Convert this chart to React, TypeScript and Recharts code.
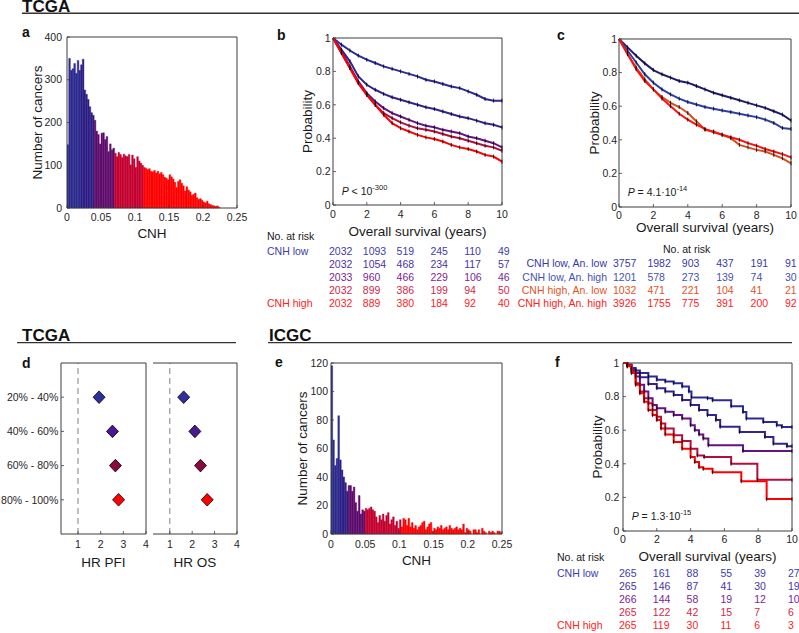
import React from "react"
import {
  Bar,
  BarChart,
  Cell,
  ErrorBar,
  Line,
  LineChart,
  ReferenceLine,
  Scatter,
  ScatterChart,
  XAxis,
  YAxis,
} from "recharts"

const FONT = '"Liberation Sans", Arial, Helvetica, sans-serif'
const INK = "#1a1a1a"
const TICK_INK = "#262626"
const FRAME = "#3c3c3c"
const TICK_FS = 10.5
const TITLE_FS = 13.5
const TABLE_FS = 10.5

// a: TCGA, number of cancers per CNH bin (bin width 0.0025)
const A_COUNTS = [
  148, 350, 322, 326, 338, 315, 345, 322, 335, 348,
  276, 266, 254, 237, 223, 217, 205, 180, 172, 150,
  175, 176, 160, 167, 132, 150, 136, 140, 128, 120,
  130, 125, 118, 126, 122, 120, 125, 101, 124, 115,
  95, 120, 110, 105, 100, 95, 93, 90, 92, 86,
  85, 88, 82, 86, 80, 83, 78, 72, 70, 66,
  78, 73, 68, 60, 48, 62, 66, 58, 52, 40,
  50, 42, 38, 30, 32, 35, 24, 20, 22, 18,
  14, 12, 16, 10, 8, 6, 5, 4, 5, 2,
]
const A_SPLITS = [8, 16, 28, 45]

// e: ICGC, same binning
const E_COUNTS = [
  118, 66, 48, 53, 83, 52, 45, 40, 36, 30,
  34, 34, 30, 33, 22, 16, 27, 14, 17, 16,
  18, 17, 18, 19, 17, 16, 12, 8, 13, 10,
  14, 9, 13, 15, 7, 10, 12, 6, 9, 4,
  10, 5, 11, 10, 6, 11, 5, 8, 4, 6,
  3, 5, 6, 8, 9, 3, 5, 7, 8, 2,
  4, 3, 5, 4, 6, 3, 4, 5, 3, 6,
  4, 3, 4, 5, 3, 4, 3, 7, 1, 4,
  3, 2, 0, 3, 3, 1, 3, 0, 4, 2,
  1, 0, 2, 1, 2, 1, 0, 2, 2, 1,
]
const E_SPLITS = [5, 10, 20, 41]

const HIST_COLORS = ["#2b2b8e", "#2e1e86", "#5e0c6c", "#c40030", "#ff0000"]
const CNH_TICKS = [0, 0.05, 0.1, 0.15, 0.2, 0.25]
const HIST_BINS = 100
const BIN_W = 0.0025

// b: TCGA overall survival by CNH quintile
const YEARS = [0, 0.5, 1, 1.5, 2, 2.5, 3, 3.5, 4, 4.5, 5, 5.5, 6, 6.5, 7, 7.5, 8, 8.5, 9, 9.5, 10]
const B_LOW = [1, 0.96, 0.925, 0.895, 0.87, 0.85, 0.83, 0.815, 0.8, 0.785, 0.77, 0.75, 0.74, 0.725, 0.71, 0.7, 0.68, 0.66, 0.635, 0.625, 0.625]
const B_Q2 = [1, 0.93, 0.86, 0.77, 0.72, 0.69, 0.665, 0.645, 0.63, 0.615, 0.6, 0.585, 0.575, 0.56, 0.545, 0.53, 0.52, 0.505, 0.49, 0.48, 0.465]
const B_Q3 = [1, 0.92, 0.83, 0.74, 0.67, 0.62, 0.58, 0.55, 0.53, 0.51, 0.49, 0.475, 0.465, 0.45, 0.44, 0.43, 0.41, 0.4, 0.385, 0.37, 0.345]
const B_Q4 = [1, 0.91, 0.82, 0.73, 0.66, 0.6, 0.55, 0.52, 0.495, 0.475, 0.46, 0.45, 0.44, 0.425, 0.41, 0.4, 0.385, 0.37, 0.355, 0.345, 0.325]
const B_HIGH = [1, 0.91, 0.82, 0.73, 0.66, 0.6, 0.54, 0.49, 0.46, 0.44, 0.42, 0.405, 0.395, 0.38, 0.36, 0.345, 0.335, 0.32, 0.3, 0.29, 0.26]

// c: TCGA overall survival by CNH x aneuploidy
const C_LOW_LOW = [1, 0.95, 0.9, 0.855, 0.815, 0.79, 0.77, 0.75, 0.74, 0.72, 0.7, 0.68, 0.665, 0.65, 0.635, 0.62, 0.605, 0.59, 0.57, 0.55, 0.515]
const C_LOW_HIGH = [1, 0.93, 0.86, 0.79, 0.74, 0.7, 0.67, 0.645, 0.625, 0.61, 0.595, 0.585, 0.575, 0.565, 0.555, 0.545, 0.535, 0.52, 0.5, 0.47, 0.465]
const C_HIGH_LOW = [1, 0.91, 0.83, 0.76, 0.7, 0.655, 0.62, 0.595, 0.56, 0.51, 0.46, 0.45, 0.43, 0.41, 0.37, 0.355, 0.34, 0.33, 0.31, 0.29, 0.26]
const C_HIGH_HIGH = [1, 0.91, 0.82, 0.75, 0.7, 0.645, 0.6, 0.555, 0.52, 0.49, 0.465, 0.445, 0.43, 0.415, 0.4, 0.38, 0.365, 0.345, 0.33, 0.315, 0.295]

// f: ICGC overall survival, [years, probability] at visible steps
const F_LOW = [[0, 1], [0.25, 0.99], [0.5, 0.97], [0.75, 0.955], [1, 0.94], [1.5, 0.92], [2, 0.9], [2.5, 0.89], [3, 0.88], [3.5, 0.86], [3.9, 0.83], [4.05, 0.795], [5, 0.79], [5.3, 0.778], [6.4, 0.742], [7.1, 0.708], [7.3, 0.669], [8.3, 0.649], [9.1, 0.629], [9.4, 0.619], [10, 0.619]]
const F_Q2 = [[0, 1], [0.25, 0.985], [0.5, 0.96], [0.75, 0.94], [1, 0.915], [1.5, 0.875], [2, 0.85], [2.5, 0.83], [3, 0.81], [3.5, 0.78], [4, 0.75], [4.5, 0.72], [5, 0.69], [5.5, 0.66], [5.75, 0.62], [6.9, 0.59], [8.4, 0.56], [8.9, 0.52], [9.7, 0.505], [10, 0.505]]
const F_Q3 = [[0, 1], [0.25, 0.99], [0.5, 0.96], [0.75, 0.92], [1, 0.87], [1.25, 0.83], [1.5, 0.79], [1.75, 0.75], [2, 0.73], [2.5, 0.71], [3, 0.69], [3.5, 0.67], [4, 0.63], [4.25, 0.6], [4.5, 0.575], [4.75, 0.55], [5.05, 0.51], [7.1, 0.476], [10, 0.476]]
const F_Q4 = [[0, 1], [0.25, 0.985], [0.5, 0.95], [0.75, 0.88], [1, 0.83], [1.25, 0.79], [1.5, 0.76], [1.75, 0.72], [2, 0.68], [2.25, 0.64], [2.5, 0.61], [3, 0.57], [3.5, 0.535], [4, 0.49], [4.4, 0.45], [4.8, 0.44], [6.4, 0.4], [7.95, 0.305], [10, 0.305]]
const F_HIGH = [[0, 1], [0.25, 0.98], [0.5, 0.94], [0.75, 0.87], [1, 0.82], [1.25, 0.77], [1.5, 0.72], [1.75, 0.69], [2, 0.66], [2.25, 0.61], [2.5, 0.575], [3, 0.53], [3.5, 0.49], [4, 0.44], [4.25, 0.41], [4.5, 0.38], [4.75, 0.37], [5.3, 0.35], [7, 0.296], [8.5, 0.19], [10, 0.19]]

const QUINT_COLORS = ["#2a2a98", "#33238e", "#641282", "#b30f3e", "#ff0000"]
const QUINT_TEXT = ["#3c3cac", "#4a34a6", "#7a2694", "#d0284a", "#ff2020"]
const C_COLORS = ["#1c1c6c", "#2c40a4", "#d2501c", "#ff1010"]
const C_TEXT = ["#3838a8", "#3f52b4", "#e2541e", "#ff2020"]

const YEAR_TICKS = [0, 2, 4, 6, 8, 10]
const PROB_TICKS = [0, 0.2, 0.4, 0.6, 0.8, 1]

// numbers at risk
const B_RISK = [
  [2032, 1093, 519, 245, 110, 49],
  [2032, 1054, 468, 234, 117, 57],
  [2033, 960, 466, 229, 106, 46],
  [2032, 899, 386, 199, 94, 50],
  [2032, 889, 380, 184, 92, 40],
]
const C_RISK = [
  [3757, 1982, 903, 437, 191, 91],
  [1201, 578, 273, 139, 74, 30],
  [1032, 471, 221, 104, 41, 21],
  [3926, 1755, 775, 391, 200, 92],
]
const F_RISK = [
  [265, 161, 88, 55, 39, 27],
  [265, 146, 87, 41, 30, 19],
  [266, 144, 58, 19, 12, 10],
  [265, 122, 42, 15, 7, 6],
  [265, 119, 30, 11, 6, 3],
]
const QUINT_LABELS = ["CNH low", "", "", "", "CNH high"]
const C_LABELS = ["CNH low, An. low", "CNH low, An. high", "CNH high, An. low", "CNH high, An. high"]

// d: hazard ratios vs lowest quintile
const D_GROUPS = ["20% - 40%", "40% - 60%", "60% - 80%", "80% - 100%"]
const D_PFI = [1.93, 2.52, 2.65, 2.79]
const D_PFI_CI = [0.15, 0.2, 0.2, 0.25]
const D_OS = [1.62, 2.12, 2.37, 2.67]
const D_OS_CI = [0.15, 0.18, 0.2, 0.22]
const D_COLORS = ["#2e2e9c", "#4a1890", "#8a0a40", "#ff0000"]

type Geo = {
  left: number
  top: number
  width: number
  height: number
  m: { top: number; right: number; left: number }
  yw: number
  xh: number
  xGap: number
  yGap: number
  yTitle: number
  xTitle: number
}

const GEO_A: Geo = { left: 0, top: 0, width: 250, height: 245, m: { top: 37, right: 13, left: 0 }, yw: 67, xh: 37, xGap: 5.5, yGap: 5, yTitle: 37.5, xTitle: 7 }
const GEO_B: Geo = { left: 260, top: 0, width: 252, height: 245, m: { top: 38, right: 10, left: 0 }, yw: 73, xh: 40, xGap: 6, yGap: 2.5, yTitle: 47.5, xTitle: 9 }
const GEO_C: Geo = { left: 530, top: 0, width: 269, height: 245, m: { top: 39, right: 8, left: 0 }, yw: 89, xh: 38, xGap: 4.5, yGap: 2, yTitle: 64, xTitle: 13.5 }
const GEO_D1: Geo = { left: 0, top: 330, width: 150, height: 244, m: { top: 33, right: 4, left: 0 }, yw: 61, xh: 40, xGap: 6.8, yGap: 2.7, yTitle: 0, xTitle: 7.3 }
const GEO_D2: Geo = { left: 150, top: 330, width: 92, height: 244, m: { top: 33, right: 5, left: 3 }, yw: 0, xh: 40, xGap: 6.8, yGap: 0, yTitle: 0, xTitle: 7.3 }
const GEO_E: Geo = { left: 270, top: 330, width: 244, height: 244, m: { top: 33, right: 12, left: 0 }, yw: 61, xh: 40, xGap: 6.8, yGap: 3, yTitle: 32, xTitle: 9 }
const GEO_F: Geo = { left: 550, top: 330, width: 249, height: 241, m: { top: 33, right: 7, left: 0 }, yw: 73, xh: 40, xGap: 4.2, yGap: 3.7, yTitle: 47.5, xTitle: 10 }

const plotLeft = (g: Geo) => g.left + g.m.left + g.yw
const plotRight = (g: Geo) => g.left + g.width - g.m.right

const TITLE_STYLE = { fontSize: TITLE_FS, fill: INK }
const xTitle = (g: Geo, value: string) => ({ value, position: "insideBottom", offset: g.xTitle, style: TITLE_STYLE })
const yTitle = (g: Geo, value: string) => ({
  value,
  angle: -90,
  position: "insideLeft",
  offset: g.yTitle,
  style: { ...TITLE_STYLE, textAnchor: "middle" },
})

const fmtProb = (v: number) => (v === 0 || v === 1 ? String(v) : v.toFixed(1))

// MATLAB style: label outside, short tick pointing into the box
function xTick(gap: number, fmt: (v: any) => string) {
  return (p: any) => {
    const y0 = p.y - gap
    return (
      <g>
        <line x1={p.x} x2={p.x} y1={y0} y2={y0 - 3} stroke={FRAME} strokeWidth={0.8} />
        <text x={p.x} y={p.y} dy="0.71em" textAnchor="middle" fontSize={TICK_FS} fill={TICK_INK}>
          {fmt(p.payload.value)}
        </text>
      </g>
    )
  }
}

function yTick(gap: number, fmt: (v: any) => string, showText = true) {
  return (p: any) => {
    const x0 = p.x + gap
    return (
      <g>
        <line x1={x0} x2={x0 + 3} y1={p.y} y2={p.y} stroke={FRAME} strokeWidth={0.8} />
        {showText && (
          <text x={p.x} y={p.y} dy="0.355em" textAnchor="end" fontSize={TICK_FS} fill={TICK_INK}>
            {fmt(p.payload.value)}
          </text>
        )}
      </g>
    )
  }
}

const censor = (p: any) =>
  p.index === 0 ? (
    <g key={`c${p.index}`} />
  ) : (
    <line key={`c${p.index}`} x1={p.cx} x2={p.cx} y1={p.cy - 2} y2={p.cy + 2} stroke="#000" strokeWidth={0.8} />
  )

function Histogram({ geo, counts, splits, yMax, yTicks }: any) {
  const rows = Array.from({ length: HIST_BINS }, (_, i) => ({
    x: (i + 0.5) * BIN_W,
    n: counts[i] ?? 0,
    seg: splits.filter((s: number) => i >= s).length,
  }))
  const plotW = plotRight(geo) - plotLeft(geo)
  return (
    <div style={{ position: "absolute", left: geo.left, top: geo.top }}>
      <BarChart width={geo.width} height={geo.height} data={rows} margin={{ ...geo.m, bottom: 0 }} barCategoryGap={0} barGap={0}>
        <XAxis
          dataKey="x"
          type="number"
          domain={[0, 0.25]}
          allowDataOverflow
          ticks={CNH_TICKS}
          interval={0}
          height={geo.xh}
          tickSize={0}
          tickMargin={geo.xGap}
          tick={xTick(geo.xGap, String)}
          axisLine={{ stroke: FRAME }}
          label={xTitle(geo, "CNH")}
        />
        <YAxis
          domain={[0, yMax]}
          ticks={yTicks}
          interval={0}
          width={geo.yw}
          tickSize={0}
          tickMargin={geo.yGap}
          tick={yTick(geo.yGap, String)}
          axisLine={{ stroke: FRAME }}
          label={yTitle(geo, "Number of cancers")}
        />
        <ReferenceLine y={yMax} stroke={FRAME} />
        <ReferenceLine x={0.25} stroke={FRAME} />
        <Bar dataKey="n" barSize={plotW / HIST_BINS - 0.02} isAnimationActive={false}>
          {rows.map((r, i) => (
            <Cell key={i} fill={HIST_COLORS[r.seg]} stroke={HIST_COLORS[r.seg]} strokeWidth={0.4} />
          ))}
        </Bar>
      </BarChart>
    </div>
  )
}

function SurvivalPlot({ geo, series, step }: any) {
  return (
    <div style={{ position: "absolute", left: geo.left, top: geo.top }}>
      <LineChart width={geo.width} height={geo.height} margin={{ ...geo.m, bottom: 0 }}>
        <XAxis
          type="number"
          dataKey="t"
          domain={[0, 10]}
          ticks={YEAR_TICKS}
          interval={0}
          height={geo.xh}
          tickSize={0}
          tickMargin={geo.xGap}
          tick={xTick(geo.xGap, String)}
          axisLine={{ stroke: FRAME }}
          label={xTitle(geo, "Overall survival (years)")}
        />
        <YAxis
          type="number"
          domain={[0, 1]}
          ticks={PROB_TICKS}
          interval={0}
          width={geo.yw}
          tickSize={0}
          tickMargin={geo.yGap}
          tick={yTick(geo.yGap, fmtProb)}
          axisLine={{ stroke: FRAME }}
          label={yTitle(geo, "Probability")}
        />
        <ReferenceLine y={1} stroke={FRAME} />
        <ReferenceLine x={10} stroke={FRAME} />
        {series.map((s: any, i: number) => (
          <Line
            key={i}
            data={s.data}
            dataKey="s"
            type={step ? "stepAfter" : "linear"}
            stroke={s.color}
            strokeWidth={2}
            dot={censor}
            isAnimationActive={false}
          />
        ))}
      </LineChart>
    </div>
  )
}

const diamond = (p: any) => {
  const { cx, cy, fill } = p
  return <path d={`M${cx},${cy - 6.3} L${cx + 6},${cy} L${cx},${cy + 6.3} L${cx - 6},${cy} Z`} fill={fill} stroke="#000" strokeWidth={0.8} />
}

function ForestPlot({ geo, values, ci, title, showLabels }: any) {
  const rows = values.map((v: number, i: number) => ({ hr: v, row: i + 1, ci: ci[i] }))
  return (
    <div style={{ position: "absolute", left: geo.left, top: geo.top }}>
      <ScatterChart width={geo.width} height={geo.height} margin={{ ...geo.m, bottom: 0 }}>
        <XAxis
          type="number"
          dataKey="hr"
          domain={[0.25, 4]}
          allowDataOverflow
          ticks={[1, 2, 3, 4]}
          interval={0}
          height={geo.xh}
          tickSize={0}
          tickMargin={geo.xGap}
          tick={xTick(geo.xGap, String)}
          axisLine={{ stroke: FRAME }}
          label={xTitle(geo, title)}
        />
        <YAxis
          type="number"
          dataKey="row"
          domain={[0, 5]}
          reversed
          allowDataOverflow
          ticks={[1, 2, 3, 4]}
          interval={0}
          width={geo.yw}
          tickSize={0}
          tickMargin={geo.yGap}
          tick={yTick(geo.yGap, (v) => D_GROUPS[v - 1], showLabels)}
          axisLine={{ stroke: FRAME }}
        />
        <ReferenceLine x={1} stroke="#808080" strokeDasharray="6 4" />
        <ReferenceLine y={0} stroke={FRAME} />
        <ReferenceLine x={4} stroke={FRAME} />
        <Scatter data={rows} shape={diamond} isAnimationActive={false}>
          {rows.map((_: any, i: number) => (
            <Cell key={i} fill={D_COLORS[i]} />
          ))}
          <ErrorBar dataKey="ci" direction="x" width={0} stroke="#333" strokeWidth={1} />
        </Scatter>
      </ScatterChart>
    </div>
  )
}

function RiskTable({ geo, rows, colors, labels, labelX, anchor, dx, y0, gap, head }: any) {
  const x0 = plotLeft(geo)
  const w = plotRight(geo) - x0
  return (
    <g fontSize={TABLE_FS}>
      <text x={head[0]} y={head[1]} fill={INK}>
        No. at risk
      </text>
      {rows.map((r: number[], i: number) => (
        <g key={i} fill={colors[i]}>
          {labels[i] && (
            <text x={labelX} y={y0 + i * gap} textAnchor={anchor}>
              {labels[i]}
            </text>
          )}
          {r.map((v, j) => (
            <text key={j} x={x0 + (YEAR_TICKS[j] / 10) * w + dx} y={y0 + i * gap}>
              {v}
            </text>
          ))}
        </g>
      ))}
    </g>
  )
}

function PValue({ x, y, rel, base, exp }: any) {
  return (
    <text x={x} y={y} fontSize={10.5} fill={INK}>
      <tspan fontStyle="italic">P</tspan>
      {` ${rel} ${base}`}
      <tspan dy={-5.5} fontSize={7.5}>
        {exp}
      </tspan>
    </text>
  )
}

const toSeries = (vals: number[][], colors: string[]) =>
  vals.map((v, i) => ({ data: YEARS.map((t, k) => ({ t, s: v[k] })), color: colors[i] }))
const toStepSeries = (pairs: number[][][], colors: string[]) =>
  pairs.map((p, i) => ({ data: p.map(([t, s]) => ({ t, s })), color: colors[i] }))

export default function App() {
  const bSeries = toSeries([B_LOW, B_Q2, B_Q3, B_Q4, B_HIGH], QUINT_COLORS)
  const cSeries = toSeries([C_LOW_LOW, C_LOW_HIGH, C_HIGH_LOW, C_HIGH_HIGH], C_COLORS)
  const fSeries = toStepSeries([F_LOW, F_Q2, F_Q3, F_Q4, F_HIGH], QUINT_COLORS)

  return (
    <div
      style={{
        position: "absolute",
        left: 0,
        top: 0,
        width: 799,
        height: 633,
        background: "#fff",
        overflow: "hidden",
        fontFamily: FONT,
      }}
    >
      <Histogram geo={GEO_A} counts={A_COUNTS} splits={A_SPLITS} yMax={400} yTicks={[0, 100, 200, 300, 400]} />
      <SurvivalPlot geo={GEO_B} series={bSeries} step={false} />
      <SurvivalPlot geo={GEO_C} series={cSeries} step={false} />
      <ForestPlot geo={GEO_D1} values={D_PFI} ci={D_PFI_CI} title="HR PFI" showLabels />
      <ForestPlot geo={GEO_D2} values={D_OS} ci={D_OS_CI} title="HR OS" showLabels={false} />
      <Histogram geo={GEO_E} counts={E_COUNTS} splits={E_SPLITS} yMax={120} yTicks={[0, 20, 40, 60, 80, 100, 120]} />
      <SurvivalPlot geo={GEO_F} series={fSeries} step />

      <svg width={799} height={633} style={{ position: "absolute", left: 0, top: 0, pointerEvents: "none" }} fontFamily={FONT}>
        <g fontWeight="bold" fill="#111">
          <text x={22} y={12} fontSize={17}>TCGA</text>
          <text x={22} y={341} fontSize={17}>TCGA</text>
          <text x={269} y={341} fontSize={17}>ICGC</text>
          <text x={22} y={37} fontSize={14}>a</text>
          <text x={277} y={40} fontSize={14}>b</text>
          <text x={557} y={40} fontSize={14}>c</text>
          <text x={22} y={368} fontSize={14}>d</text>
          <text x={275} y={366.5} fontSize={14}>e</text>
          <text x={555} y={366.5} fontSize={14}>f</text>
        </g>
        <g stroke="#333" strokeWidth={1.4}>
          <line x1={22} x2={799} y1={13.3} y2={13.3} />
          <line x1={17} x2={236} y1={342.6} y2={342.6} />
          <line x1={268} x2={792} y1={342.6} y2={342.6} />
        </g>

        <PValue x={341.7} y={195} rel="<" base="10" exp="-300" />
        <PValue x={627.7} y={196} rel="=" base="4.1·10" exp="-14" />
        <PValue x={631.7} y={520} rel="=" base="1.3·10" exp="-15" />

        <RiskTable geo={GEO_B} rows={B_RISK} colors={QUINT_TEXT} labels={QUINT_LABELS} labelX={267} anchor="start" dx={-4} y0={255} gap={13.1} head={[267, 240]} />
        <RiskTable geo={GEO_C} rows={C_RISK} colors={C_TEXT} labels={C_LABELS} labelX={607} anchor="end" dx={-6} y0={267.3} gap={13.3} head={[663, 253]} />
        <RiskTable geo={GEO_F} rows={F_RISK} colors={QUINT_TEXT} labels={QUINT_LABELS} labelX={557} anchor="start" dx={-4} y0={577.3} gap={12.8} head={[557, 560.7]} />
      </svg>
    </div>
  )
}
